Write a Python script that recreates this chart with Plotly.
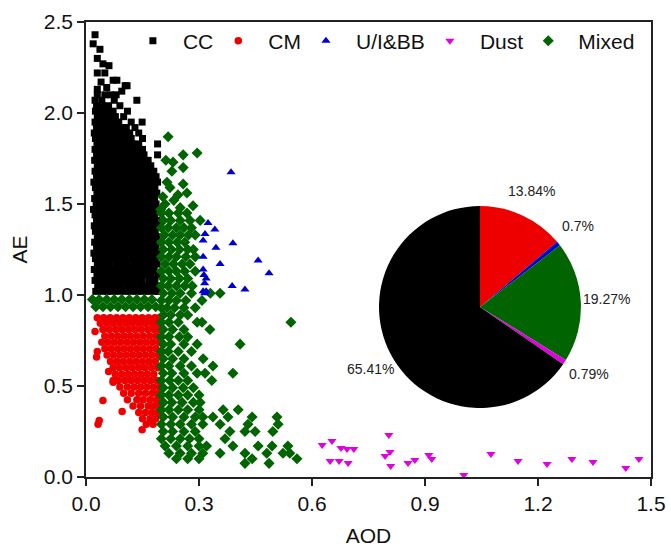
import plotly.graph_objects as go

# ---------------- data ----------------
# CC: dense rows, AE level -> AOD values
cc_rows = {
    1.02: [0.026,0.041,0.057,0.071,0.088,0.103,0.119,0.135,0.151,0.166,0.181,0.192],
    1.05: [0.031,0.047,0.063,0.079,0.094,0.111,0.126,0.143,0.158,0.173,0.188],
    1.08: [0.024,0.039,0.055,0.072,0.087,0.104,0.12,0.134,0.149,0.167,0.183],
    1.11: [0.029,0.045,0.061,0.077,0.093,0.108,0.124,0.141,0.156,0.172,0.19],
    1.14: [0.022,0.038,0.054,0.07,0.086,0.102,0.118,0.133,0.15,0.165,0.181],
    1.17: [0.03,0.046,0.062,0.079,0.095,0.11,0.127,0.142,0.157,0.174,0.189],
    1.20: [0.025,0.041,0.057,0.073,0.088,0.104,0.121,0.136,0.152,0.168,0.184],
    1.23: [0.021,0.035,0.05,0.066,0.082,0.098,0.114,0.13,0.146,0.162,0.178,0.192],
    1.26: [0.028,0.044,0.06,0.076,0.091,0.107,0.123,0.139,0.155,0.17,0.186],
    1.29: [0.023,0.039,0.054,0.07,0.086,0.102,0.117,0.133,0.149,0.165,0.181],
    1.32: [0.03,0.046,0.062,0.078,0.094,0.11,0.126,0.141,0.157,0.173,0.189],
    1.35: [0.025,0.041,0.057,0.073,0.089,0.105,0.12,0.136,0.152,0.168,0.184],
    1.38: [0.022,0.036,0.052,0.068,0.084,0.1,0.115,0.131,0.147,0.163,0.179,0.192],
    1.41: [0.028,0.044,0.06,0.076,0.092,0.108,0.124,0.14,0.155,0.171,0.187],
    1.44: [0.024,0.04,0.056,0.071,0.087,0.103,0.119,0.135,0.151,0.166,0.182],
    1.47: [0.02,0.033,0.049,0.065,0.081,0.097,0.113,0.129,0.145,0.16,0.176,0.19],
    1.50: [0.027,0.043,0.059,0.075,0.091,0.107,0.122,0.138,0.154,0.17,0.186],
    1.53: [0.023,0.039,0.055,0.071,0.086,0.102,0.118,0.134,0.15,0.166,0.182],
    1.56: [0.029,0.045,0.061,0.077,0.093,0.109,0.125,0.141,0.156,0.172,0.188],
    1.59: [0.025,0.041,0.057,0.072,0.088,0.104,0.12,0.136,0.152,0.167,0.183],
    1.62: [0.021,0.036,0.052,0.068,0.084,0.1,0.116,0.131,0.147,0.163,0.179,0.19],
    1.65: [0.028,0.044,0.06,0.076,0.092,0.107,0.123,0.139,0.155,0.171,0.186],
    1.68: [0.024,0.04,0.056,0.072,0.088,0.103,0.119,0.135,0.151,0.166,0.18],
    1.71: [0.03,0.046,0.061,0.077,0.093,0.109,0.125,0.141,0.156,0.172],
    1.74: [0.023,0.039,0.055,0.071,0.087,0.102,0.118,0.134,0.15,0.165],
    1.77: [0.028,0.044,0.06,0.075,0.091,0.107,0.123,0.139,0.154,0.19],
    1.80: [0.024,0.04,0.055,0.071,0.087,0.103,0.119,0.135,0.15],
    1.83: [0.029,0.045,0.061,0.077,0.093,0.108,0.124,0.14,0.19],
    1.86: [0.025,0.041,0.057,0.072,0.088,0.104,0.12,0.15],
    1.89: [0.022,0.037,0.053,0.069,0.085,0.1,0.116,0.14],
    1.92: [0.028,0.044,0.06,0.075,0.091,0.107,0.13],
    1.95: [0.024,0.04,0.056,0.071,0.087,0.12,0.149],
    1.98: [0.03,0.046,0.062,0.078,0.1],
    2.01: [0.025,0.041,0.057,0.072,0.11],
    2.04: [0.028,0.044,0.06,0.09],
    2.07: [0.024,0.042,0.075,0.135],
    2.10: [0.03,0.05,0.065],
}
cc_top_aod = [0.024,0.019,0.037,0.03,0.045,0.061,0.03,0.05,0.072,0.04,0.082,0.104,0.055,0.095,0.03,0.08,0.109]
cc_top_ae  = [2.43, 2.38, 2.35, 2.30,2.27, 2.26, 2.22,2.22,2.18, 2.17,2.18, 2.15, 2.14, 2.12, 2.13,2.10,2.15]

# CM
cm_rows = {
    0.875: [0.03,0.047,0.064,0.081,0.098,0.115,0.132,0.149,0.166,0.183,0.195],
    0.845: [0.038,0.055,0.072,0.089,0.106,0.123,0.14,0.157,0.174,0.19],
    0.81:  [0.045,0.062,0.079,0.096,0.113,0.13,0.147,0.164,0.181,0.195],
    0.775: [0.05,0.067,0.084,0.101,0.118,0.135,0.152,0.169,0.186],
    0.74:  [0.042,0.058,0.075,0.092,0.109,0.126,0.143,0.16,0.177,0.194],
    0.705: [0.05,0.067,0.084,0.101,0.118,0.135,0.152,0.169,0.186],
    0.67:  [0.056,0.073,0.09,0.107,0.124,0.141,0.158,0.175,0.192],
    0.635: [0.065,0.082,0.099,0.116,0.133,0.15,0.167,0.184],
    0.60:  [0.072,0.089,0.106,0.123,0.14,0.157,0.174,0.191],
    0.565: [0.078,0.095,0.112,0.129,0.146,0.163,0.18],
    0.53:  [0.072,0.086,0.103,0.12,0.137,0.154,0.171,0.188],
    0.495: [0.09,0.11,0.128,0.145,0.162,0.179,0.195],
    0.46:  [0.1,0.12,0.14,0.158,0.176,0.19],
    0.425: [0.11,0.135,0.152,0.17,0.187],
    0.39:  [0.125,0.145,0.165,0.18,0.195],
    0.355: [0.14,0.158,0.175,0.19],
    0.32:  [0.15,0.17,0.185],
    0.29:  [0.16,0.178],
}
cm_iso_aod = [0.024,0.03,0.028,0.06,0.045,0.035,0.032,0.096,0.149,0.072]
cm_iso_ae  = [0.80, 0.69,0.66, 0.58,0.42, 0.31, 0.29, 0.36, 0.26, 0.52]

# U/I&BB
ubb_aod = [0.385,0.324,0.342,0.316,0.311,0.39,0.345,0.311,0.356,0.457,0.486,0.311,0.313,0.319,0.315,0.388,0.422,0.311,0.319,0.315]
ubb_ae  = [1.675,1.395,1.36, 1.335,1.30, 1.285,1.26, 1.21, 1.17, 1.19, 1.12, 1.14, 1.11, 1.09, 1.065,1.05, 1.03, 1.02, 1.02, 1.01]

# Dust
dust_aod = [0.627,0.653,0.677,0.693,0.711,0.648,0.672,0.696,0.804,0.807,0.794,0.809,0.855,0.873,0.91,0.918,1.003,1.075,1.147,1.224,1.29,1.346,1.433,1.468]
dust_ae  = [0.176,0.198,0.159,0.154,0.154,0.088,0.088,0.077,0.231,0.137,0.115,0.06, 0.077,0.093,0.121,0.099,0.011,0.126,0.088,0.071,0.099,0.082,0.049,0.099]

# Mixed
mix_rows = {
    0.975: [0.017,0.035,0.055,0.075,0.095,0.115,0.135,0.155,0.175],
    0.935: [0.026,0.045,0.065,0.085,0.105,0.125,0.145,0.165,0.185],
    1.45: [0.2,0.22,0.245,0.268],
    1.41: [0.205,0.225,0.25,0.276,0.303],
    1.37: [0.2,0.218,0.24,0.26,0.28],
    1.33: [0.208,0.23,0.25,0.272,0.29],
    1.29: [0.2,0.22,0.242,0.262],
    1.25: [0.205,0.227,0.248,0.27,0.285],
    1.21: [0.2,0.22,0.24,0.265,0.29],
    1.17: [0.21,0.232,0.255,0.276],
    1.13: [0.2,0.22,0.24,0.262,0.29],
    1.09: [0.205,0.225,0.248,0.27],
    1.05: [0.2,0.218,0.24,0.262,0.282],
    1.01: [0.205,0.228,0.25,0.28,0.33,0.356],
    0.97: [0.2,0.22,0.24,0.265,0.308],
    0.93: [0.2,0.215,0.235,0.26,0.29],
    0.89: [0.205,0.225,0.25,0.27],
    0.85: [0.2,0.22,0.245,0.295,0.308,0.544],
    0.81: [0.205,0.23,0.26,0.329],
    0.77: [0.2,0.22,0.248,0.27],
    0.73: [0.205,0.225,0.26,0.295,0.409],
    0.69: [0.2,0.218,0.245,0.28],
    0.65: [0.205,0.23,0.26,0.311],
    0.61: [0.2,0.22,0.25,0.28,0.337],
    0.57: [0.205,0.228,0.26,0.295,0.316,0.39],
    0.53: [0.2,0.222,0.245,0.27,0.334],
    0.49: [0.205,0.23,0.258,0.285],
    0.45: [0.2,0.22,0.245,0.27,0.3],
    0.41: [0.205,0.228,0.255,0.285,0.303],
    0.37: [0.2,0.22,0.245,0.27,0.3,0.364,0.404],
    0.33: [0.205,0.23,0.26,0.29,0.31,0.337,0.377,0.441,0.507],
    0.29: [0.2,0.225,0.25,0.28,0.31,0.356,0.43,0.51],
    0.25: [0.205,0.23,0.26,0.29,0.382,0.422,0.449,0.496],
    0.21: [0.2,0.225,0.25,0.275,0.3,0.369],
    0.17: [0.21,0.24,0.27,0.3,0.32,0.39,0.457,0.494,0.536],
    0.13: [0.22,0.25,0.28,0.31,0.356,0.422,0.48,0.523,0.541],
    0.10: [0.24,0.27,0.3,0.441,0.56],
    0.075: [0.422,0.486],
}
mix_top_aod = [0.218,0.295,0.258,0.212,0.231,0.258,0.228,0.215,0.258,0.223,0.268,0.244,0.204,0.233,0.284,0.21,0.25,0.198]
mix_top_ae  = [1.87, 1.78, 1.77, 1.74, 1.73, 1.70, 1.68, 1.62, 1.61, 1.59, 1.56, 1.55, 1.54, 1.52, 1.49, 1.50,1.48,1.47]

# Pie
pie_labels = ["CM", "U/I&BB", "Mixed", "Dust", "CC"]
pie_values = [13.84, 0.7, 19.27, 0.79, 65.41]
pie_colors = ["#EE0000", "#0000CC", "#006400", "#E000E0", "#000000"]
pie_text_pos = [(0.789, 0.629), (0.871, 0.552), (0.922, 0.391), (0.890, 0.226), (0.503, 0.237)]

x_ticks = [0.0, 0.3, 0.6, 0.9, 1.2, 1.5]
y_ticks = [0.0, 0.5, 1.0, 1.5, 2.0, 2.5]


def flatten(rows, extra_x=(), extra_y=()):
    xs, ys = [], []
    for ae, aods in rows.items():
        xs += aods
        ys += [ae] * len(aods)
    xs += list(extra_x)
    ys += list(extra_y)
    return xs, ys


cc_x, cc_y = flatten(cc_rows, cc_top_aod, cc_top_ae)
cm_x, cm_y = flatten(cm_rows, cm_iso_aod, cm_iso_ae)
mx_x, mx_y = flatten(mix_rows, mix_top_aod, mix_top_ae)

FONT = "Liberation Sans, Arial, sans-serif"
PAD = "\u00a0\u2009"  # small gap between legend symbol and its label


def lg(name):
    return PAD + name


fig = go.Figure()
fig.add_trace(go.Scatter(x=cc_x, y=cc_y, mode="markers", name=lg("CC"), legendrank=1,
                         marker=dict(symbol="square", size=7, color="#000000", line=dict(width=0))))
fig.add_trace(go.Scatter(x=cm_x, y=cm_y, mode="markers", name=lg("CM"), legendrank=2,
                         marker=dict(symbol="circle", size=7.5, color="#EE0000", line=dict(width=0))))
fig.add_trace(go.Scatter(x=mx_x, y=mx_y, mode="markers", name=lg("Mixed"), legendrank=5,
                         marker=dict(symbol="diamond", size=8.5, color="#006400", line=dict(width=0))))
fig.add_trace(go.Scatter(x=ubb_aod, y=ubb_ae, mode="markers", name=lg("U/I&BB"), legendrank=3,
                         marker=dict(symbol="triangle-up", size=8, color="#0000CC", line=dict(width=0))))
fig.add_trace(go.Scatter(x=dust_aod, y=dust_ae, mode="markers", name=lg("Dust"), legendrank=4,
                         marker=dict(symbol="triangle-down", size=8, color="#E000E0", line=dict(width=0))))

fig.add_trace(go.Pie(labels=pie_labels, values=pie_values, sort=False, direction="clockwise",
                     rotation=0, marker=dict(colors=pie_colors, line=dict(width=0)),
                     textinfo="none", hoverinfo="label+value", showlegend=False,
                     domain=dict(x=[0.5186, 0.876], y=[0.1516, 0.5956])))

for v, (px, py) in zip(pie_values, pie_text_pos):
    fig.add_annotation(x=px, y=py, xref="paper", yref="paper", text=f"{v}%", showarrow=False,
                       xanchor="center", yanchor="middle",
                       font=dict(size=14, color="#222222", family=FONT))

axis_common = dict(showline=True, linecolor="#222222", linewidth=1.5, mirror=True,
                   ticks="outside", ticklen=7, tickwidth=1.5, tickcolor="#222222",
                   showgrid=False, zeroline=False, tickfont=dict(size=21, color="#111111", family=FONT),
                   tickformat=".1f")
fig.update_xaxes(range=[0, 1.5], tickvals=x_ticks, title=dict(text="AOD", font=dict(size=21, color="#111111", family=FONT), standoff=14), **axis_common)
fig.update_yaxes(range=[0, 2.5], tickvals=y_ticks, title=dict(text="AE", font=dict(size=21, color="#111111", family=FONT), standoff=10), **axis_common)

fig.update_layout(
    width=671, height=554,
    margin=dict(l=86, r=20, t=22, b=77, autoexpand=False),
    paper_bgcolor="white", plot_bgcolor="white",
    font=dict(family=FONT, color="#111111"),
    legend=dict(orientation="h", x=0.083, y=1.003, xanchor="left", yanchor="top",
                font=dict(size=21, family=FONT, color="#111111"), bgcolor="rgba(0,0,0,0)",
                itemwidth=30, tracegroupgap=0),
)

fig.write_html("out.html")
